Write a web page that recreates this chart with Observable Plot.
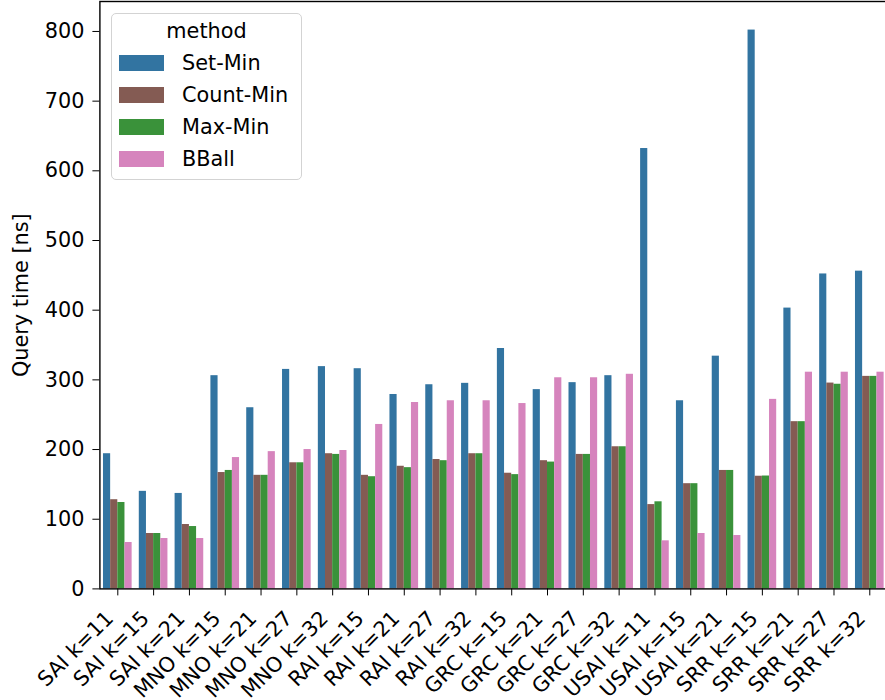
<!DOCTYPE html>
<html>
<head>
<meta charset="utf-8">
<script src="https://cdn.jsdelivr.net/npm/d3@7"></script>
<script src="https://cdn.jsdelivr.net/npm/@observablehq/plot@0.6"></script>
<style>
  body { margin: 0; background: #fff; overflow: hidden; }
  #wrap { position: relative; width: 885px; height: 700px; overflow: hidden; font-family: "DejaVu Sans", sans-serif; }
  #legend { position: absolute; left: 111px; top: 13px; width: 191px; height: 167px; box-sizing: border-box;
    border: 1.5px solid #d3d3d3; border-radius: 5px; background: rgba(255,255,255,0.8); font-size: 20.8px; color: #000; }
  #legend .title { position: absolute; left: 0; right: 0; top: 7px; text-align: center; line-height: 1; }
  #legend .row { position: absolute; left: 0; height: 20px; }
  #legend .sw { position: absolute; left: 7px; width: 45px; height: 16px; }
  #legend .lab { position: absolute; left: 70px; top: -12px; line-height: 1; white-space: nowrap; }
</style>
</head>
<body>
<div id="wrap"></div>
<script>
const categories = ["SAI k=11","SAI k=15","SAI k=21","MNO k=15","MNO k=21","MNO k=27","MNO k=32",
  "RAI k=15","RAI k=21","RAI k=27","RAI k=32","GRC k=15","GRC k=21","GRC k=27","GRC k=32",
  "USAI k=11","USAI k=15","USAI k=21","SRR k=15","SRR k=21","SRR k=27","SRR k=32"];
const methods = ["Set-Min","Count-Min","Max-Min","BBall"];
const colors = ["#3274a1","#845b53","#3a923a","#d684bd"];
const setMin   = [194,140,137,306,260,315,319,316,279,293,295,345,286,296,306,632,270,334,802,403,452,456];
const countMin = [128,79.5,92.4,167,163,181,194,163,176,185.7,194,166,184,193,204,121,151,170,161.7,240,295.4,305];
const maxMin   = [124,79.5,89.5,170,163,181,193,161,174,184,194,164,182,193,204,125,151,170,162,240,293.7,305];
const bball    = [66.6,72.3,72.3,188.5,197,200,198.6,236,267.5,270,270,266,303,303,308,69,79.5,76.6,272,311,311,311];
const yTicks = [0,100,200,300,400,500,600,700,800];

const series = [setMin, countMin, maxMin, bball];
const rows = [];
categories.forEach((c, i) => methods.forEach((m, j) => rows.push({cat: c, method: m, value: series[j][i]})));

const W = 885, ML = 99.4, MR = -2.2;
const step = (W - ML - MR) / categories.length;   // facet band step
const outer = 0.1 * step;                          // outer padding beside first/last facet

const chart = Plot.plot({
  width: W, height: 700,
  marginLeft: ML, marginRight: MR, marginTop: 1, marginBottom: 111.6,
  style: {fontFamily: "DejaVu Sans", fontSize: "20.8px", color: "#000", background: "#fff"},
  fx: {domain: categories, paddingInner: 0.2, paddingOuter: 0.1, round: false, label: null, axis: null},
  x: {domain: methods, axis: null, padding: 0, round: false},
  y: {domain: [0, 843], axis: null},
  color: {domain: methods, range: colors},
  marks: [
    Plot.barY(rows, {fx: "cat", x: "method", y: "value", fill: "method"}),
    Plot.axisY({ticks: yTicks, tickSize: 0, text: null, label: "Query time [ns]",
      labelAnchor: "center", labelArrow: "none", labelOffset: 90.3, dy: -3, fill: "#000"}),
    Plot.axisY({ticks: yTicks, tickSize: 7, text: null, label: null, dx: -outer}),
    Plot.axisY({ticks: yTicks, tickSize: 0, tickPadding: 15.4, label: null, dx: -outer, fill: "#000"}),
    Plot.axisFx({anchor: "bottom", tickSize: 7, text: null, label: null}),
    Plot.axisFx({anchor: "bottom", tickSize: 0, tickRotate: -45, tickPadding: 26, dx: -8, label: null, fill: "#000"}),
    Plot.frame({facet: "super", stroke: "#000", strokeWidth: 1.4, insetLeft: -outer, insetRight: -outer})
  ]
});
const wrap = document.getElementById("wrap");
wrap.appendChild(chart);

// legend (built from the chart's own color scale)
const leg = document.createElement("div");
leg.id = "legend";
const t = document.createElement("div");
t.className = "title"; t.textContent = "method";
leg.appendChild(t);
const col = chart.scale("color");
methods.forEach((m, i) => {
  const r = document.createElement("div");
  r.className = "row";
  r.style.top = (41 + 32 * i) + "px";
  const sw = document.createElement("div");
  sw.className = "sw"; sw.style.background = col.apply(m);
  const lb = document.createElement("div");
  lb.className = "lab"; lb.textContent = m;
  lb.style.top = "-2px";
  r.appendChild(sw); r.appendChild(lb);
  leg.appendChild(r);
});
wrap.appendChild(leg);
</script>
</body>
</html>
